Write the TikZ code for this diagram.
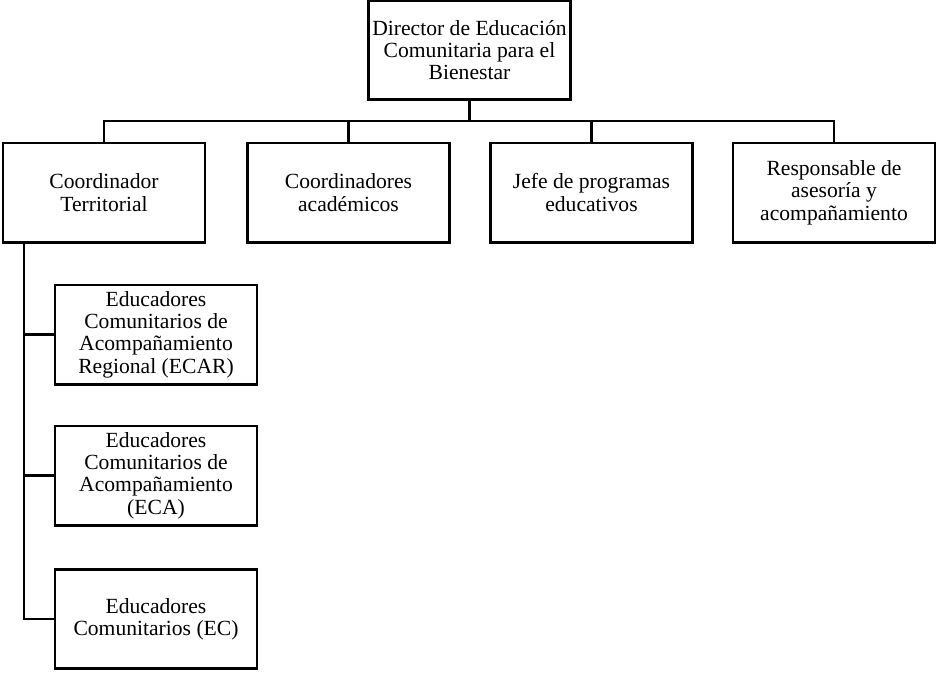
\documentclass[tikz,border=0pt]{standalone}
\usepackage{fontspec}
\setmainfont{Liberation Serif}
\begin{document}
\begin{tikzpicture}[x=0.75pt,y=-0.75pt,
  box/.style={draw,line width=2pt,inner sep=0pt,align=center,
    minimum width=151.5pt,minimum height=74.5pt,
    font=\fontsize{16.2}{16.8}\selectfont},
  conn/.style={line width=2pt}]
\useasboundingbox (0,0) rectangle (936,672);
\node[box] (top) at (469.5,50) {Director de Educación\\Comunitaria para el\\Bienestar};
\node[box] (b1) at (104,192.5) {Coordinador\\Territorial};
\node[box] (b2) at (348.5,192.5) {Coordinadores\\académicos};
\node[box] (b3) at (591.5,192.5) {Jefe de programas\\educativos};
\node[box] (b4) at (834,192.5) {Responsable de\\asesoría y\\acompañamiento};
\node[box] (cA) at (156,334.5) {Educadores\\Comunitarios de\\Acompañamiento\\Regional (ECAR)};
\node[box] (cB) at (156,475.5) {Educadores\\Comunitarios de\\Acompañamiento\\(ECA)};
\node[box] (cC) at (156,619) {Educadores\\Comunitarios (EC)};
\coordinate (bus) at (469.5,121);
\coordinate (trunk) at (24,0);
\draw[conn] (top.south) -- (bus);
\draw[conn] (b1.north) |- (bus) -| (b4.north);
\draw[conn] (b2.north) -- (b2.north |- bus);
\draw[conn] (b3.north) -- (b3.north |- bus);
\draw[conn] (b1.south -| trunk) -- (cC.west -| trunk) -- (cC.west);
\draw[conn] (cA.west -| trunk) -- (cA.west);
\draw[conn] (cB.west -| trunk) -- (cB.west);
\end{tikzpicture}
\end{document}
